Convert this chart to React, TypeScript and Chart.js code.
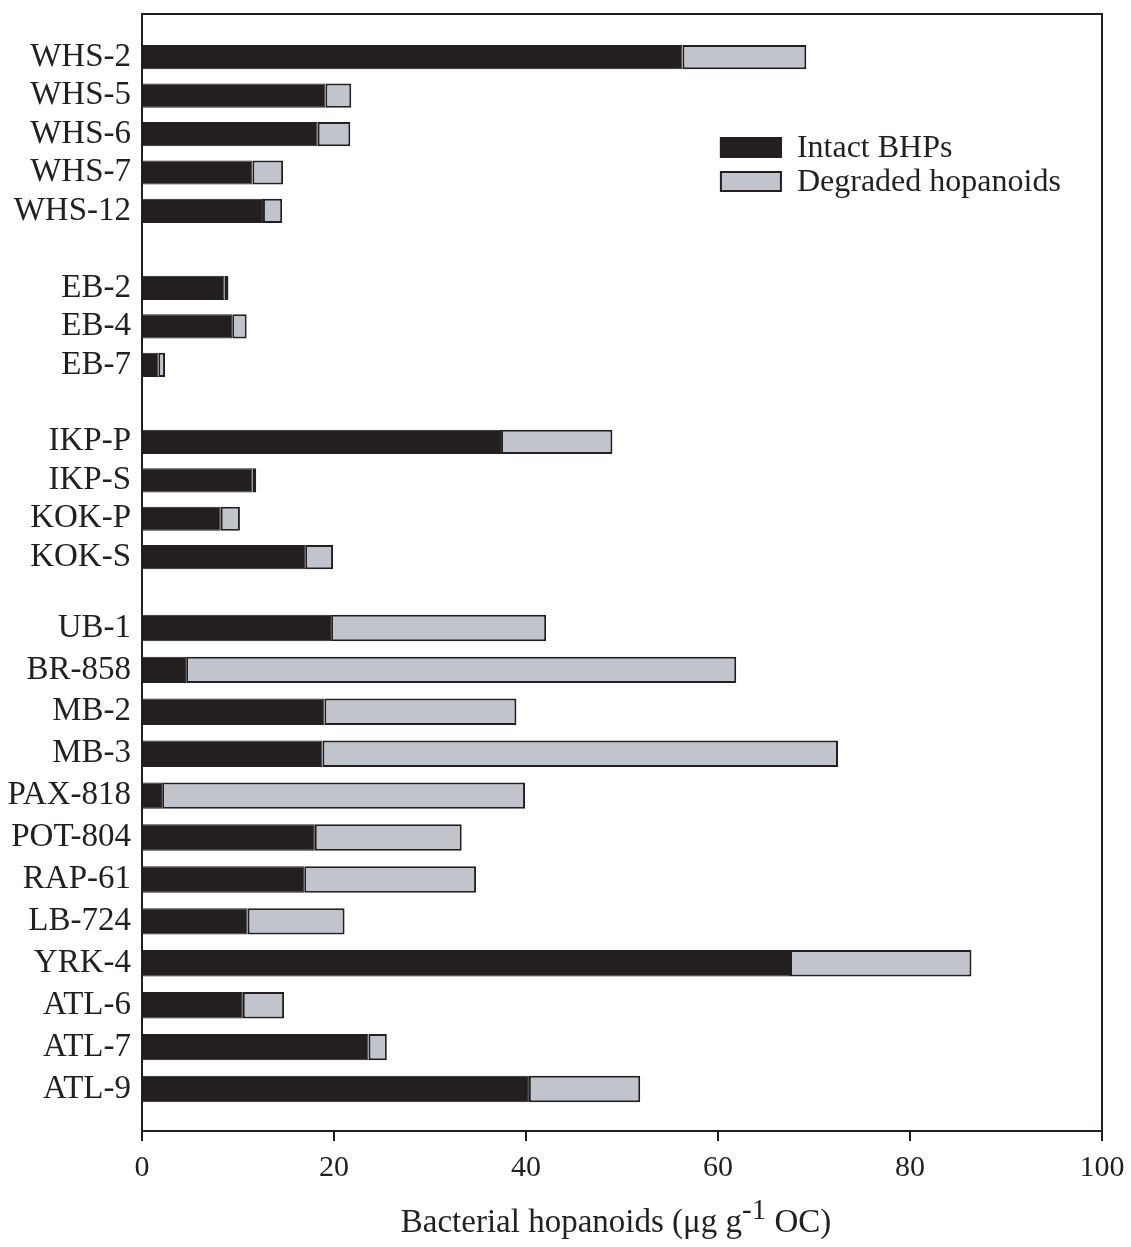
import { useEffect, useRef } from 'react';
import { Chart, registerables } from 'chart.js';

Chart.register(...registerables);

const INK = '#231f20';
const GREY = '#c1c4cb';
const FONT = '"Liberation Serif", "Times New Roman", serif';

// Upper panel sites; '' is a blank spacer row between site groups
const upperSites = ['WHS-2', 'WHS-5', 'WHS-6', 'WHS-7', 'WHS-12', '', 'EB-2', 'EB-4', 'EB-7', '', 'IKP-P', 'IKP-S', 'KOK-P', 'KOK-S'];
const upperIntact = [56.3, 19.1, 18.3, 11.5, 12.6, null, 8.6, 9.4, 1.7, null, 37.4, 11.5, 8.2, 17.0];
const upperDegraded = [12.9, 2.7, 3.4, 3.2, 2.0, null, 0.4, 1.5, 0.7, null, 11.6, 0.4, 2.0, 2.9];

// Lower panel sites
const lowerSites = ['UB-1', 'BR-858', 'MB-2', 'MB-3', 'PAX-818', 'POT-804', 'RAP-61', 'LB-724', 'YRK-4', 'ATL-6', 'ATL-7', 'ATL-9'];
const lowerIntact = [19.7, 4.6, 19.0, 18.8, 2.1, 18.0, 16.9, 11.0, 67.5, 10.5, 23.6, 40.3];
const lowerDegraded = [22.4, 57.3, 20.0, 53.7, 37.8, 15.3, 17.9, 10.1, 18.9, 4.3, 1.9, 11.6];

const seriesNames = ['Intact BHPs', 'Degraded hopanoids'];
const xMin = 0;
const xMax = 100;
const xStep = 20;
const xTitleMain = 'Bacterial hopanoids (μg g';
const xTitleSup = '-1';
const xTitleTail = ' OC)';

type Val = number | null;

const toPoints = (sites: string[], vals: Val[]) =>
  sites.flatMap((s, i) => (s && vals[i] != null ? [{ x: vals[i] as number, y: i }] : []));

// Draws the box outline around the plot area (sides chosen per panel)
const framePlugin = {
  id: 'frame',
  afterDatasetsDraw(chart: any, _args: any, o: any) {
    const { ctx, chartArea: a } = chart;
    ctx.save();
    ctx.strokeStyle = INK;
    ctx.lineWidth = 2;
    ctx.beginPath();
    ctx.moveTo(a.left, a.top);
    ctx.lineTo(a.left, a.bottom);
    ctx.moveTo(a.right, a.top);
    ctx.lineTo(a.right, a.bottom);
    if (o.top) {
      ctx.moveTo(a.left - 1, a.top);
      ctx.lineTo(a.right + 1, a.top);
    }
    if (o.bottom) {
      ctx.moveTo(a.left - 1, a.bottom);
      ctx.lineTo(a.right + 1, a.bottom);
    }
    ctx.stroke();
    ctx.restore();
  },
};

// Boxed legend placed inside the plot area
const boxLegendPlugin = {
  id: 'boxLegend',
  afterDraw(chart: any, _args: any, o: any) {
    if (!o.show) return;
    const { ctx, chartArea: a } = chart;
    const x0 = a.left + o.leftFrac * (a.right - a.left);
    ctx.save();
    chart.data.datasets.forEach((ds: any, i: number) => {
      const y = a.top + o.top + i * o.rowGap;
      ctx.fillStyle = ds.backgroundColor;
      ctx.fillRect(x0, y, o.boxW, o.boxH);
      ctx.strokeStyle = INK;
      ctx.lineWidth = 2;
      ctx.strokeRect(x0 + 1, y + 1, o.boxW - 2, o.boxH - 2);
      ctx.fillStyle = INK;
      ctx.font = `32px ${FONT}`;
      ctx.textBaseline = 'middle';
      ctx.textAlign = 'left';
      ctx.fillText(ds.label, x0 + o.boxW + o.gap, y + o.boxH / 2 + 1);
    });
    ctx.restore();
  },
};

// X-axis title with a superscript exponent
const axisTitlePlugin = {
  id: 'axisTitle',
  afterDraw(chart: any, _args: any, o: any) {
    if (!o.show) return;
    const { ctx, chartArea: a } = chart;
    ctx.save();
    ctx.fillStyle = INK;
    ctx.textBaseline = 'alphabetic';
    ctx.textAlign = 'left';
    const big = `33px ${FONT}`;
    const small = `29px ${FONT}`;
    ctx.font = big;
    const w1 = ctx.measureText(xTitleMain).width;
    const w3 = ctx.measureText(xTitleTail).width;
    ctx.font = small;
    const w2 = ctx.measureText(xTitleSup).width;
    const total = w1 + w2 + w3;
    const cx = (a.left + a.right) / 2 + o.shift;
    let x = cx - total / 2;
    const y = a.bottom + o.offset;
    ctx.font = big;
    ctx.fillText(xTitleMain, x, y);
    x += w1;
    ctx.font = small;
    ctx.fillText(xTitleSup, x, y - 13);
    x += w2;
    ctx.font = big;
    ctx.fillText(xTitleTail, x, y);
    ctx.restore();
  },
};

function panelConfig(
  sites: string[],
  intact: Val[],
  degraded: Val[],
  p: { yMin: number; yMax: number; showX: boolean; padTop: number; padBottom: number; xHeight: number; frameTop: boolean; frameBottom: boolean; legend: boolean; title: boolean }
): any {
  return {
    type: 'bar',
    data: {
      datasets: [
        {
          label: seriesNames[0],
          data: toPoints(sites, intact),
          backgroundColor: INK,
          borderColor: INK,
          borderWidth: 1,
          categoryPercentage: 1,
          barPercentage: 0.63,
        },
        {
          label: seriesNames[1],
          data: toPoints(sites, degraded),
          backgroundColor: GREY,
          borderColor: INK,
          borderWidth: 2,
          borderSkipped: false,
          categoryPercentage: 1,
          barPercentage: 0.63,
        },
      ],
    },
    options: {
      indexAxis: 'y',
      responsive: false,
      animation: false,
      layout: { padding: { top: p.padTop, right: 29, bottom: p.padBottom, left: 0 } },
      scales: {
        x: {
          type: 'linear',
          min: xMin,
          max: xMax,
          stacked: true,
          display: p.showX,
          ticks: { stepSize: xStep, color: INK, font: { family: FONT, size: 30 }, padding: 9, maxRotation: 0 },
          grid: { drawOnChartArea: false, drawTicks: true, tickLength: 10, color: INK, lineWidth: 2 },
          border: { display: false },
          afterFit: (s: any) => {
            s.height = p.xHeight;
            s.paddingLeft = 0;
            s.paddingRight = 0;
          },
        },
        y: {
          type: 'linear',
          reverse: true,
          offset: false,
          min: p.yMin,
          max: p.yMax,
          stacked: true,
          afterBuildTicks: (s: any) => {
            s.ticks = sites.flatMap((n, i) => (n ? [{ value: i }] : []));
          },
          ticks: {
            autoSkip: false,
            color: INK,
            font: { family: FONT, size: 33 },
            padding: 11,
            callback: (v: any) => sites[v] ?? '',
          },
          grid: { display: false, drawTicks: false },
          border: { display: false },
          afterFit: (s: any) => {
            s.width = 142;
            s.paddingTop = 0;
            s.paddingBottom = 0;
          },
        },
      },
      plugins: {
        legend: { display: false },
        tooltip: { enabled: false },
        frame: { top: p.frameTop, bottom: p.frameBottom },
        boxLegend: { show: p.legend, leftFrac: 0.602, top: 123, rowGap: 34, boxW: 62, boxH: 21, gap: 15 },
        axisTitle: { show: p.title, offset: 101, shift: -6 },
      },
    },
    plugins: [framePlugin, boxLegendPlugin, axisTitlePlugin],
  };
}

export default function App() {
  const upperRef = useRef<HTMLCanvasElement>(null);
  const lowerRef = useRef<HTMLCanvasElement>(null);

  useEffect(() => {
    const upper = new Chart(
      upperRef.current as HTMLCanvasElement,
      panelConfig(upperSites, upperIntact, upperDegraded, {
        yMin: -1.12,
        yMax: 13.8,
        showX: false,
        padTop: 14,
        padBottom: 2,
        xHeight: 0,
        frameTop: true,
        frameBottom: false,
        legend: true,
        title: false,
      })
    );
    const lower = new Chart(
      lowerRef.current as HTMLCanvasElement,
      panelConfig(lowerSites, lowerIntact, lowerDegraded, {
        yMin: -1,
        yMax: 12,
        showX: true,
        padTop: 0,
        padBottom: 0,
        xHeight: 116,
        frameTop: false,
        frameBottom: true,
        legend: false,
        title: true,
      })
    );
    return () => {
      upper.destroy();
      lower.destroy();
    };
  }, []);

  return (
    <div style={{ position: 'absolute', left: 0, top: 0, width: 1131, height: 1247, background: '#fff' }}>
      <canvas ref={upperRef} width={1131} height={590} style={{ position: 'absolute', left: 0, top: 0 }} />
      <canvas ref={lowerRef} width={1131} height={661} style={{ position: 'absolute', left: 0, top: 586 }} />
    </div>
  );
}
